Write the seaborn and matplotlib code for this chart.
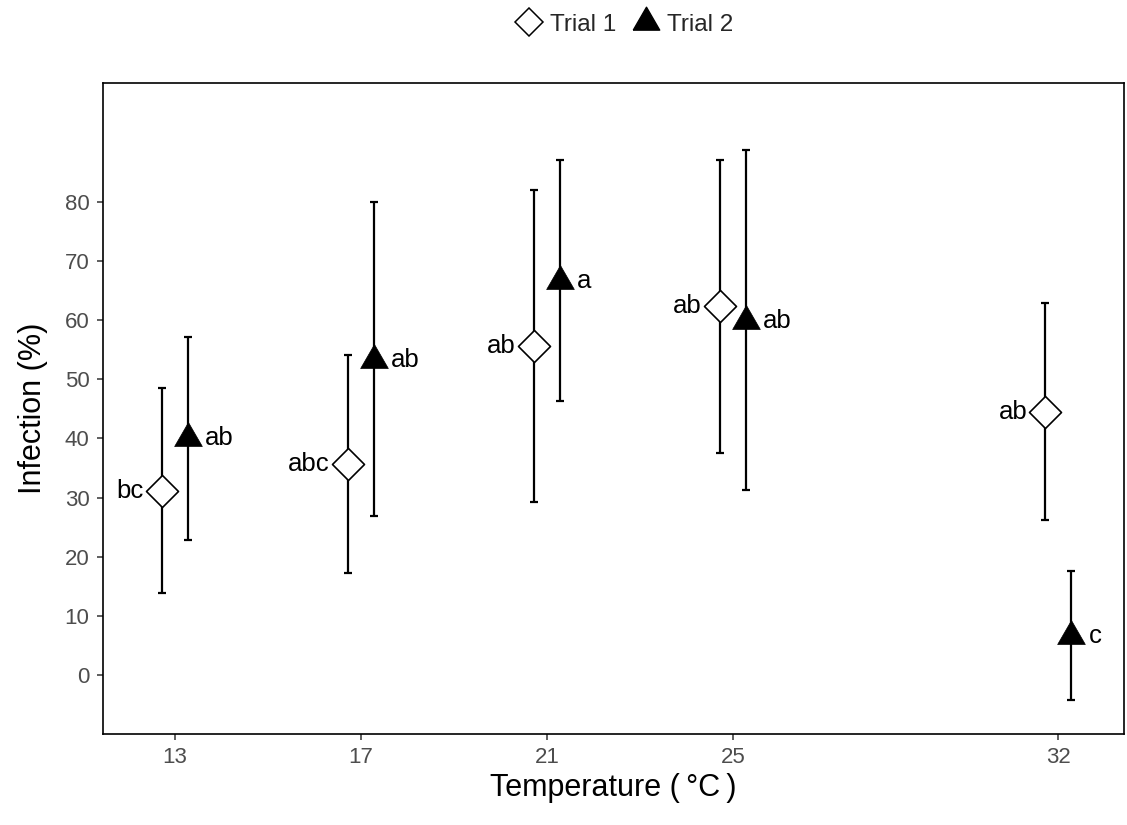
import numpy as np
import pandas as pd
import matplotlib
matplotlib.use("Agg")
import matplotlib.pyplot as plt
import seaborn as sns
from matplotlib.lines import Line2D

# ---- data ----
temps = [13, 17, 21, 25, 32]
tick_labels = ["13", "17", "21", "25", "32"]
trial1_mean = [31.1, 35.7, 55.6, 62.3, 44.5]
trial1_low = [13.8, 17.2, 29.2, 37.6, 26.2]
trial1_high = [48.5, 54.1, 81.9, 87.1, 62.9]
trial1_letters = ["bc", "abc", "ab", "ab", "ab"]
trial2_mean = [40.0, 53.3, 66.6, 59.9, 6.6]
trial2_low = [22.8, 26.8, 46.4, 31.3, -4.2]
trial2_high = [57.2, 80.0, 87.1, 88.8, 17.6]
trial2_letters = ["ab", "ab", "a", "ab", "c"]
y_ticks = [0, 10, 20, 30, 40, 50, 60, 70, 80]

sns.set_theme(style="white")
plt.rcParams["font.family"] = ["Liberation Sans", "DejaVu Sans"]

fig = plt.figure(figsize=(11.27, 8.25), dpi=100)
ax = fig.add_axes([0.0911, 0.110, 0.9062, 0.789])

dodge = 0.28
tri = [(-0.5, -0.2887), (0.5, -0.2887), (0.0, 0.5774), (-0.5, -0.2887)]

df1 = pd.DataFrame({"x": np.array(temps) - dodge, "y": trial1_mean,
                    "lo": trial1_low, "hi": trial1_high, "lab": trial1_letters})
df2 = pd.DataFrame({"x": np.array(temps) + dodge, "y": trial2_mean,
                    "lo": trial2_low, "hi": trial2_high, "lab": trial2_letters})

for df in (df1, df2):
    ax.errorbar(df["x"], df["y"], yerr=[df["y"] - df["lo"], df["hi"] - df["y"]],
                fmt="none", ecolor="black", elinewidth=1.6, capsize=3,
                capthick=1.6, zorder=2)

sns.scatterplot(data=df1, x="x", y="y", marker="D", s=16.3**2,
                facecolor="white", edgecolor="black", linewidth=1.2,
                zorder=3, ax=ax, legend=False)
sns.scatterplot(data=df2, x="x", y="y", marker=tri, s=23**2,
                color="black", edgecolor="black", linewidth=0.5,
                zorder=3, ax=ax, legend=False)

for _, r in df1.iterrows():
    ax.annotate(r["lab"], (r["x"], r["y"]), xytext=(-13, 0),
                textcoords="offset points", ha="right", va="center",
                fontsize=18.5, color="black")
for _, r in df2.iterrows():
    ax.annotate(r["lab"], (r["x"], r["y"]), xytext=(12.5, 0),
                textcoords="offset points", ha="left", va="center",
                fontsize=18.5, color="black")

ax.set_xlim(11.445, 33.41)
ax.set_ylim(-10, 100)
ax.set_xticks(temps)
ax.set_xticklabels(tick_labels)
ax.set_yticks(y_ticks)
ax.tick_params(axis="both", which="both", direction="out", length=4,
               width=1.1, color="#333333", labelcolor="#4D4D4D",
               labelsize=16, bottom=True, left=True, pad=5.5)
for sp in ax.spines.values():
    sp.set_visible(True)
    sp.set_color("black")
    sp.set_linewidth(1.2)
ax.set_xlabel("Temperature (\u2009°C\u2009)", fontsize=22, color="black", labelpad=3)
ax.set_ylabel("Infection (%)", fontsize=22, color="black", labelpad=12)
ax.grid(False)

handles = [
    Line2D([], [], linestyle="none", marker="D", markersize=14,
           markerfacecolor="white", markeredgecolor="black", markeredgewidth=1.1),
    Line2D([], [], linestyle="none", marker=tri, markersize=22,
           markerfacecolor="black", markeredgecolor="black"),
]
fig.legend(handles, ["Trial 1", "Trial 2"], loc="center",
           bbox_to_anchor=(0.554, 0.970), ncol=2, frameon=False,
           fontsize=17.5, handletextpad=0.3, columnspacing=0.7,
           handlelength=1.1)

fig.savefig("out.png", dpi=100)
